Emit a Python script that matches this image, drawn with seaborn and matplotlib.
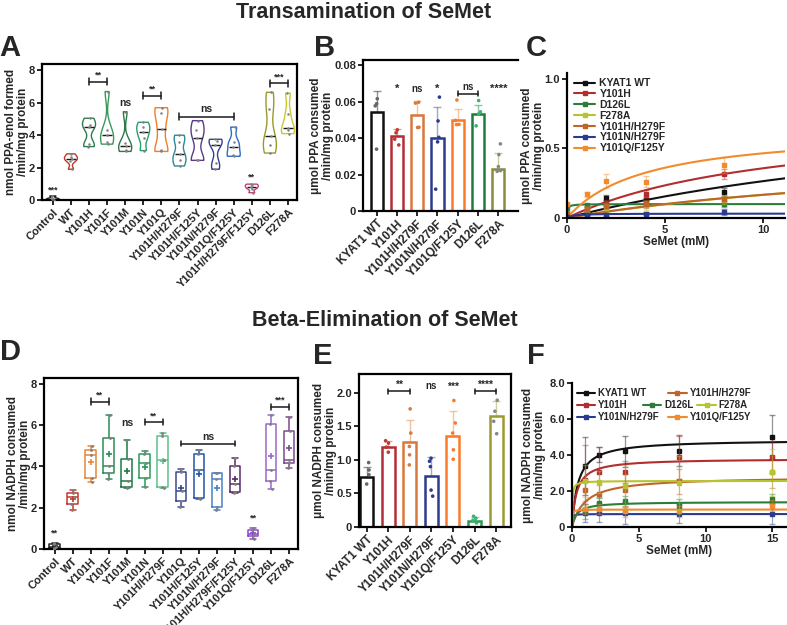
import numpy as np
import pandas as pd
import matplotlib
matplotlib.use("Agg")
import matplotlib.pyplot as plt
import seaborn as sns
from matplotlib.lines import Line2D

sns.set_theme(style="ticks")
plt.rcParams["font.family"] = ["Liberation Sans", "DejaVu Sans"]
plt.rcParams["font.weight"] = "bold"
plt.rcParams["axes.labelweight"] = "bold"
plt.rcParams["axes.linewidth"] = 1.6
plt.rcParams["xtick.major.width"] = 1.4
plt.rcParams["ytick.major.width"] = 1.4
plt.rcParams["xtick.major.size"] = 3.5
plt.rcParams["ytick.major.size"] = 3.5
plt.rcParams["xtick.major.pad"] = 1.5
plt.rcParams["ytick.major.pad"] = 1.5
plt.rcParams["axes.edgecolor"] = "black"

FONTE_TITULO = ["Liberation Sans Narrow", "Liberation Sans", "DejaVu Sans"]

# ---------------- A: violinos (nmol PPA-enol) ----------------
A_GRUPOS = ["Control", "WT", "Y101H", "Y101F", "Y101M", "Y101N", "Y101Q",
            "Y101H/H279F", "Y101H/F125Y", "Y101N/H279F", "Y101Q/F125Y",
            "Y101H/H279F/F125Y", "D126L", "F278A"]
A_VALORES = [
    [0.0, 0.05, 0.1, 0.25],
    [1.9, 2.4, 2.55, 2.65, 2.85],
    [3.3, 3.45, 4.5, 4.65, 5.05],
    [3.45, 3.6, 4.0, 4.35, 6.7],
    [3.0, 3.1, 3.35, 3.55, 5.45],
    [3.05, 3.8, 4.2, 4.5, 4.8],
    [3.0, 3.1, 4.4, 5.4, 5.7],
    [2.1, 2.5, 2.85, 3.6, 4.0],
    [2.45, 2.5, 3.85, 4.35, 4.9],
    [1.9, 2.3, 3.4, 3.65, 3.75],
    [2.7, 2.75, 3.3, 3.6, 4.5],
    [0.45, 0.7, 0.8, 0.9, 0.98],
    [2.9, 3.4, 3.95, 5.6, 6.65],
    [4.1, 4.3, 4.45, 5.3, 6.6],
]
A_CORES = ["#222222", "#c0392b", "#2e7d4f", "#3a9a5a", "#2a7a48", "#2a9d6a", "#f07e26",
           "#2a8a9a", "#5b3a8c", "#3a3f8f", "#2f6bc2", "#c0407a", "#9a9a2a", "#c8c830"]

# ---------------- B: barras (umol PPA) ----------------
B_GRUPOS = ["KYAT1 WT", "Y101H", "Y101H/H279F", "Y101N/H279F", "Y101Q/F125Y", "D126L", "F278A"]
B_MEDIAS = [0.0543, 0.0413, 0.0527, 0.0404, 0.0501, 0.0534, 0.0231]
B_DP = [0.0114, 0.0037, 0.0075, 0.0170, 0.0060, 0.0051, 0.0086]
B_PONTOS = [
    [0.0617, 0.0578, 0.059, 0.034],
    [0.0446, 0.043, 0.0395, 0.0363],
    [0.0598, 0.0593, 0.0459, 0.046],
    [0.0626, 0.0495, 0.0405, 0.038, 0.012],
    [0.061, 0.0498, 0.0475, 0.0476],
    [0.0607, 0.0545, 0.0534, 0.0468],
    [0.0369, 0.031, 0.0244, 0.0222, 0.0218],
]
B_CORES = ["#111111", "#b22d35", "#d9783c", "#2e3a8c", "#fa7a2a", "#1e7d3c", "#8a8a3a"]
B_CORES_PONTOS = ["#666666", "#c0392b", "#d9783c", "#2e3a8c", "#fa7a2a", "#3cb371", "#888888"]

# ---------------- C: cinetica transaminacao ----------------
C_CONC = [0, 1, 2, 4, 8]
C_NOMES = ["KYAT1 WT", "Y101H", "D126L", "F278A", "Y101H/H279F", "Y101N/H279F", "Y101Q/F125Y"]
C_CORES = ["#111111", "#b22d2d", "#2d7d3a", "#b5c42f", "#c0652a", "#2a3a90", "#f28a2e"]
C_VMAX = [0.9, 0.75, 0.1, 0.55, 0.5, 0.032, 0.65]
C_KM = [24, 11, 0.03, 23, 20, 0.3, 4]
C_MEDIAS = [
    [0.0, 0.036, 0.145, 0.128, 0.188],
    [0.01, 0.067, 0.108, 0.17, 0.313],
    [0.07, 0.09, 0.09, 0.1, 0.1],
    [0.02, 0.06, 0.075, 0.09, 0.13],
    [0.03, 0.065, 0.085, 0.1, 0.135],
    [0.01, 0.025, 0.025, 0.03, 0.043],
    [0.1, 0.17, 0.267, 0.26, 0.38],
]
C_DP = [
    [0.005, 0.01, 0.02, 0.02, 0.03],
    [0.01, 0.015, 0.02, 0.03, 0.035],
    [0.02, 0.01, 0.02, 0.02, 0.02],
    [0.01, 0.02, 0.02, 0.03, 0.03],
    [0.01, 0.02, 0.02, 0.03, 0.03],
    [0.01, 0.01, 0.01, 0.01, 0.02],
    [0.01, 0.02, 0.05, 0.04, 0.06],
]

# ---------------- D: boxplots (nmol NADPH) ----------------
D_GRUPOS = ["Control", "WT", "Y101H", "Y101F", "Y101M", "Y101N", "Y101H/H279F",
            "Y101Q", "Y101H/F125Y", "Y101N/H279F", "Y101H/H279F/F125Y", "Y101Q/F125Y",
            "D126L", "F278A"]
D_VALORES = [
    [0.0, 0.03, 0.1, 0.22, 0.28],
    [1.9, 2.2, 2.5, 2.72, 2.85],
    [3.25, 3.42, 4.55, 4.8, 5.0],
    [3.4, 3.7, 4.0, 5.4, 6.5],
    [2.95, 3.0, 3.3, 4.35, 5.3],
    [3.0, 3.45, 4.15, 4.6, 4.75],
    [2.95, 3.0, 4.3, 5.5, 5.6],
    [2.05, 2.35, 2.8, 3.75, 3.9],
    [2.4, 2.45, 3.85, 4.6, 4.8],
    [1.9, 2.05, 3.4, 3.7, 3.7],
    [2.7, 2.75, 3.15, 4.0, 4.4],
    [0.5, 0.65, 0.75, 0.9, 1.0],
    [2.9, 3.3, 3.85, 6.05, 6.5],
    [3.95, 4.15, 4.3, 5.7, 6.4],
]
D_CORES = ["#222222", "#c0392b", "#e6863a", "#2e8b57", "#1e7a45", "#2a9a5a", "#5cc08a",
           "#3a4a8a", "#2255aa", "#4a80c8", "#5a2a6a", "#8a4ac8", "#9a6ac8", "#7a4a8a"]

# ---------------- E: barras (umol NADPH) ----------------
E_GRUPOS = B_GRUPOS
E_MEDIAS = [0.75, 1.19, 1.265, 0.765, 1.36, 0.09, 1.66]
E_DP = [0.15, 0.085, 0.335, 0.275, 0.365, 0.06, 0.215]
E_PONTOS = [
    [0.96, 0.85, 0.78, 0.64],
    [1.285, 1.25, 1.19, 1.115],
    [1.76, 1.4, 1.2, 1.075, 0.925],
    [1.025, 0.98, 0.9, 0.55, 0.46],
    [1.885, 1.55, 1.4, 1.15, 1.01],
    [0.16, 0.13, 0.1, 0.06],
    [1.89, 1.725, 1.575, 1.39],
]
E_CORES = ["#111111", "#b22d35", "#d9783c", "#2e3a8c", "#fa7a2a", "#2e9a5a", "#9a9a30"]
E_CORES_PONTOS = ["#666666", "#c0392b", "#d9783c", "#2e3a8c", "#fa7a2a", "#3cb371", "#888888"]

# ---------------- F: cinetica beta-eliminacao ----------------
F_CONC = [1, 2, 4, 8, 15]
F_NOMES = ["KYAT1 WT", "Y101H", "Y101N/H279F", "Y101H/H279F", "D126L", "Y101Q/F125Y", "F278A"]
F_CORES = ["#111111", "#b22d2d", "#2a3a90", "#c0652a", "#2d7d3a", "#f28a2e", "#b5c42f"]
F_VMAX = [4.85, 3.8, 0.72, 2.8, 1.4, 0.97, 2.56]
F_KM = [0.45, 0.35, 0.02, 1.0, 0.35, 0.02, 0.03]
F_MEDIAS = [
    [3.4, 4.02, 4.2, 4.24, 5.0],
    [2.63, 3.04, 3.04, 3.87, 3.89],
    [0.78, 0.78, 0.78, 0.75, 0.75],
    [2.04, 1.85, 2.07, 2.54, 3.04],
    [0.87, 1.33, 1.43, 1.15, 1.56],
    [1.0, 1.0, 0.87, 0.87, 1.19],
    [2.54, 2.5, 2.26, 2.44, 3.04],
]
F_DP = [
    [1.6, 0.4, 0.85, 0.85, 1.2],
    [1.9, 1.4, 0.6, 1.2, 0.9],
    [0.5, 0.5, 0.6, 0.55, 0.6],
    [0.6, 0.5, 0.9, 0.7, 0.9],
    [0.4, 0.3, 0.3, 0.4, 0.3],
    [0.3, 0.3, 0.3, 0.3, 0.3],
    [0.9, 0.6, 1.2, 1.5, 1.3],
]

W, H = 787, 625
fig = plt.figure(figsize=(W / 100, H / 100), dpi=100)


def eixo_px(x0, y0, x1, y1):
    return fig.add_axes([x0 / W, 1 - y1 / H, (x1 - x0) / W, (y1 - y0) / H])


def tabela(grupos, valores):
    return pd.DataFrame({
        "grupo": np.repeat(grupos, [len(v) for v in valores]),
        "valor": np.concatenate(valores),
    })


def rotular_x(ax, tamanho=8):
    ax.set_xlabel("")
    for t in ax.get_xticklabels():
        t.set_rotation(45)
        t.set_ha("right")
        t.set_rotation_mode("anchor")
        t.set_fontsize(tamanho)
        t.set_fontweight("bold")


def rotulo_y(ax, texto, borda_px, largura_px):
    # borda_px: distancia (px) entre a borda direita do rotulo e o eixo
    ax.set_ylabel(texto, fontsize=8.5, linespacing=1.05)
    ax.yaxis.set_label_coords(-borda_px / largura_px, 0.5)


def chave(ax, x1, x2, y, texto, h, tam=6.5):
    ax.plot([x1, x2], [y, y], color="k", lw=1.1)
    ax.plot([x1, x1], [y - h, y + h], color="k", lw=1.1)
    ax.plot([x2, x2], [y - h, y + h], color="k", lw=1.1)
    ax.text((x1 + x2) / 2, y + h * 0.6, texto, ha="center", va="bottom", fontsize=tam)


def marca(ax, x, y, texto, tam=6.5):
    ax.text(x, y, texto, ha="center", va="bottom", fontsize=tam)


def ajustar_ticks(ax, tamanho=8):
    ax.tick_params(axis="both", labelsize=tamanho, direction="out")
    for t in ax.get_yticklabels():
        t.set_fontweight("bold")


# ---------- Painel A ----------
axA = eixo_px(42, 64, 297, 200)
dfA = tabela(A_GRUPOS, A_VALORES)
sns.violinplot(data=dfA, x="grupo", y="valor", hue="grupo", order=A_GRUPOS,
               palette=A_CORES, fill=False, inner=None, cut=0, width=0.72,
               bw_adjust=0.6, density_norm="width", linewidth=1.0, legend=False, ax=axA)
sns.stripplot(data=dfA, x="grupo", y="valor", order=A_GRUPOS, color="0.5",
              size=1.8, jitter=0.06, ax=axA)
for i, vals in enumerate(A_VALORES):
    axA.hlines(np.median(vals), i - 0.26, i + 0.26, color="k", lw=1.0)
axA.set_ylim(0, 8.4)
axA.set_xlim(-0.6, 13.5)
axA.set_yticks([0, 2, 4, 6, 8])
rotulo_y(axA, "nmol PPA-enol formed\n/min/mg protein", 13, 255)
ajustar_ticks(axA)
rotular_x(axA)
chave(axA, 2, 3, 7.3, "**", 0.22)
chave(axA, 5, 6, 6.45, "**", 0.22)
chave(axA, 7, 10, 5.15, "ns", 0.22, tam=7.5)
chave(axA, 12, 13, 7.2, "***", 0.22)
marca(axA, 4, 5.7, "ns", tam=7.5)
marca(axA, 0, 0.35, "***")
marca(axA, 11, 1.15, "**")

# ---------- Painel B ----------
axB = eixo_px(363, 60, 518, 211)
sns.barplot(x=B_GRUPOS, y=B_MEDIAS, hue=B_GRUPOS, palette=B_CORES, fill=False,
            width=0.6, linewidth=1.8, errorbar=None, legend=False, ax=axB)
for i, (m, d, c) in enumerate(zip(B_MEDIAS, B_DP, B_CORES)):
    axB.errorbar(i, m, yerr=[[0], [d]], fmt="none", ecolor=c, alpha=0.45,
                 elinewidth=1.0, capsize=3, capthick=1.0)
dfB = tabela(B_GRUPOS, B_PONTOS)
sns.stripplot(data=dfB, x="grupo", y="valor", hue="grupo", palette=B_CORES_PONTOS,
              size=2.6, jitter=0.12, legend=False, ax=axB)
axB.set_ylim(0, 0.083)
axB.set_xlim(-0.67, 6.97)
axB.set_yticks([0, 0.02, 0.04, 0.06, 0.08])
axB.set_yticklabels(["0", "0.02", "0.04", "0.06", "0.08"])
rotulo_y(axB, "\u03bcmol PPA consumed\n/min/mg protein", 29, 155)
axB.spines["right"].set_visible(False)
ajustar_ticks(axB)
rotular_x(axB, 8.5)
marca(axB, 1, 0.0645, "*", tam=8)
marca(axB, 2, 0.0645, "ns", tam=7)
marca(axB, 3, 0.0645, "*", tam=8)
chave(axB, 4, 5, 0.0645, "ns", 0.0012, tam=7)
marca(axB, 6, 0.0645, "****", tam=8)

# ---------- Painel C ----------
axC = eixo_px(567, 73, 785, 218)
xs = np.linspace(0, 11.1, 300)
for nome, c, vm, km in zip(C_NOMES, C_CORES, C_VMAX, C_KM):
    sns.lineplot(x=xs, y=vm * xs / (km + xs), color=c, lw=1.5, ax=axC)
for med, dp, c in zip(C_MEDIAS, C_DP, C_CORES):
    axC.errorbar(C_CONC, med, yerr=dp, fmt="none", ecolor=c, alpha=0.45,
                 elinewidth=0.9, capsize=2)
    axC.plot(C_CONC, med, "s", color=c, ms=2.3, lw=0)
axC.set_xlim(0, 11.1)
axC.set_ylim(0, 1.04)
axC.set_xticks([0, 5, 10])
axC.set_yticks([0, 0.5, 1.0])
axC.set_yticklabels(["0", "0.5", "1.0"])
axC.set_xlabel("SeMet (mM)", fontsize=8.5, labelpad=1)
rotulo_y(axC, "\u03bcmol PPA consumed\n/min/mg protein", 22, 218)
sns.despine(ax=axC)
ajustar_ticks(axC)
for t in axC.get_xticklabels():
    t.set_fontweight("bold")
alcas = [Line2D([0], [0], color=c, lw=1.5, marker="s", ms=2.5) for c in C_CORES]
axC.legend(alcas, C_NOMES, loc="upper left", bbox_to_anchor=(0.01, 1.0), frameon=False,
           handlelength=2.0, handletextpad=0.4, labelspacing=0.08,
           borderaxespad=0.1, prop={"weight": "bold", "size": 7.5})

# ---------- Painel D ----------
axD = eixo_px(44, 378, 298, 549)
dfD = tabela(D_GRUPOS, D_VALORES)
sns.boxplot(data=dfD, x="grupo", y="valor", hue="grupo", order=D_GRUPOS, palette=D_CORES,
            fill=False, whis=(0, 100), width=0.6, linewidth=1.1, legend=False, ax=axD)
sns.stripplot(data=dfD, x="grupo", y="valor", order=D_GRUPOS, color="0.5",
              size=2.0, jitter=0.08, ax=axD)
for i, (vals, c) in enumerate(zip(D_VALORES, D_CORES)):
    axD.plot(i, np.mean(vals), "+", color=c, ms=4, mew=1.2)
axD.set_ylim(0, 8.29)
axD.set_xlim(-0.6, 13.5)
axD.set_yticks([0, 2, 4, 6, 8])
rotulo_y(axD, "nmol NADPH consumed\n/min/mg protein", 13, 254)
ajustar_ticks(axD)
rotular_x(axD)
marca(axD, 0, 0.55, "**")
chave(axD, 2, 3, 7.15, "**", 0.15)
marca(axD, 4, 5.85, "ns", tam=7.5)
chave(axD, 5, 6, 6.15, "**", 0.15)
chave(axD, 7, 10, 5.1, "ns", 0.12, tam=7.5)
marca(axD, 11, 1.3, "**")
chave(axD, 12, 13, 6.9, "***", 0.15)

# ---------- Painel E ----------
axE = eixo_px(359, 374, 511, 527)
sns.barplot(x=E_GRUPOS, y=E_MEDIAS, hue=E_GRUPOS, palette=E_CORES, fill=False,
            width=0.6, linewidth=1.8, errorbar=None, legend=False, ax=axE)
for i, (m, d, c) in enumerate(zip(E_MEDIAS, E_DP, E_CORES)):
    axE.errorbar(i, m, yerr=[[0], [d]], fmt="none", ecolor=c, alpha=0.45,
                 elinewidth=1.0, capsize=3, capthick=1.0)
dfE = tabela(E_GRUPOS, E_PONTOS)
sns.stripplot(data=dfE, x="grupo", y="valor", hue="grupo", palette=E_CORES_PONTOS,
              size=2.6, jitter=0.12, legend=False, ax=axE)
axE.set_ylim(0, 2.28)
axE.set_xlim(-0.35, 6.69)
axE.set_yticks([0, 0.5, 1.0, 1.5, 2.0])
axE.set_yticklabels(["0", "0.5", "1.0", "1.5", "2.0"])
rotulo_y(axE, "\u03bcmol NADPH consumed\n/min/mg protein", 22, 152)
ajustar_ticks(axE)
rotular_x(axE, 8.5)
chave(axE, 1, 2, 2.02, "**", 0.04, tam=7.5)
marca(axE, 3, 2.02, "ns", tam=7)
marca(axE, 4, 2.02, "***", tam=7.5)
chave(axE, 5, 6, 2.02, "****", 0.04, tam=7.5)

# ---------- Painel F ----------
axF = eixo_px(572, 383, 787, 527)
xs = np.linspace(0, 16.1, 400)
for c, vm, km in zip(F_CORES, F_VMAX, F_KM):
    sns.lineplot(x=xs, y=vm * xs / (km + xs), color=c, lw=1.5, ax=axF)
for med, dp, c in zip(F_MEDIAS, F_DP, F_CORES):
    axF.errorbar(F_CONC, med, yerr=dp, fmt="none", ecolor=c, alpha=0.45,
                 elinewidth=0.9, capsize=2)
    axF.plot(F_CONC, med, "s", color=c, ms=2.3, lw=0)
axF.set_xlim(0, 16.1)
axF.set_ylim(0, 8.0)
axF.set_xticks([0, 5, 10, 15])
axF.set_yticks([0, 2, 4, 6, 8])
axF.set_yticklabels(["0", "2.0", "4.0", "6.0", "8.0"])
axF.set_xlabel("SeMet (mM)", fontsize=8.5, labelpad=1)
rotulo_y(axF, "\u03bcmol NADPH consumed\n/min/mg protein", 26, 215)
sns.despine(ax=axF)
ajustar_ticks(axF)
for t in axF.get_xticklabels():
    t.set_fontweight("bold")
alcasF = [Line2D([0], [0], color=c, lw=1.5, marker="s", ms=2.5) for c in F_CORES]
vazio = Line2D([0], [0], lw=0, alpha=0)
props_leg = dict(frameon=False, handlelength=1.9, handletextpad=0.3, labelspacing=0.22,
                 borderaxespad=0.0, borderpad=0.0, loc="upper left",
                 prop={"weight": "bold", "size": 7})
leg1 = axF.legend(alcasF[:3], F_NOMES[:3], bbox_to_anchor=(0.023, 0.965), **props_leg)
axF.add_artist(leg1)
leg2 = axF.legend([alcasF[3], vazio, alcasF[5]], [F_NOMES[3], "", F_NOMES[5]],
                  bbox_to_anchor=(0.447, 0.965), **props_leg)
axF.add_artist(leg2)
axF.legend([alcasF[4], alcasF[6]], [F_NOMES[4], F_NOMES[6]], ncol=2, columnspacing=0.4,
           bbox_to_anchor=(0.33, 0.965 - 12 / 144), **props_leg)

# ---------- titulos e letras ----------
fig.text(364 / W, 1 - 13 / H, "Transamination of SeMet", ha="center", va="center",
         fontsize=15.5, fontweight="bold", family=FONTE_TITULO)
fig.text(385 / W, 1 - 321 / H, "Beta-Elimination of SeMet", ha="center", va="center",
         fontsize=15.5, fontweight="bold", family=FONTE_TITULO)
for letra, x, y in [("A", 10, 48), ("B", 325, 48), ("C", 536, 48),
                    ("D", 10, 352), ("E", 323, 356), ("F", 536, 356)]:
    fig.text(x / W, 1 - y / H, letra, ha="center", va="center", fontsize=21,
             fontweight="bold", family=FONTE_TITULO)

fig.savefig("out.png", dpi=100)
